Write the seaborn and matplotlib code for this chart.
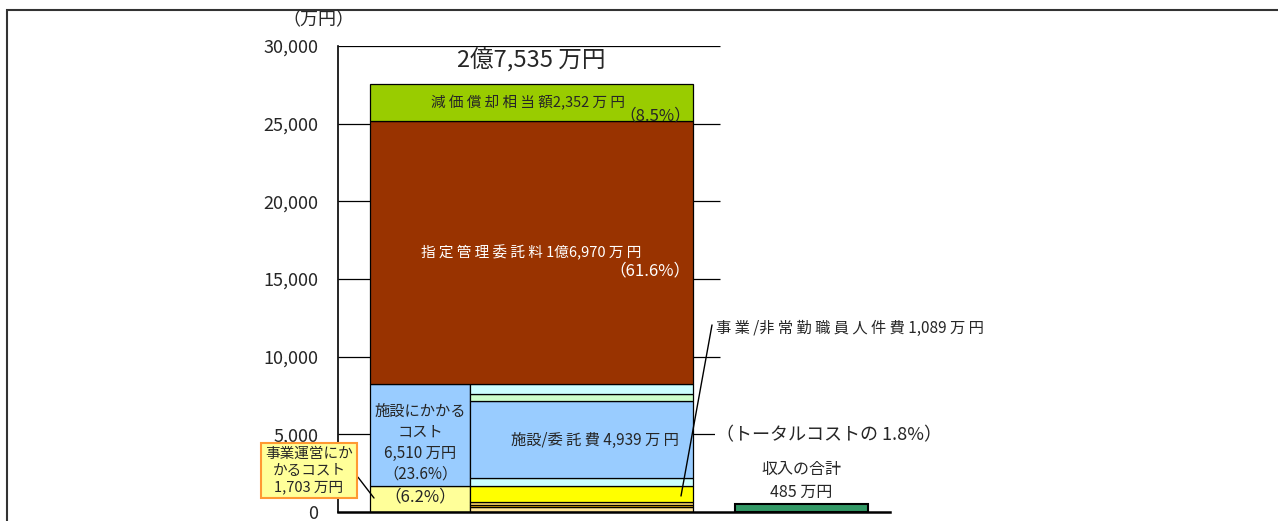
import matplotlib
matplotlib.use("Agg")
import matplotlib.pyplot as plt
import seaborn as sns
from matplotlib.patches import Rectangle

# --- data (万円) ---
summary_labels = ['事業運営', '施設']
summary_values = [1703, 6510]
summary_colors = ['#FFFF99', '#99CCFF']

detail_labels = ['事業/その他1', '事業/その他2', '事業/その他3', '事業/非常勤職員人件費',
                 '施設/その他1', '施設/委託費', '施設/その他2', '施設/その他3']
detail_values = [300, 150, 164, 1089, 480, 4939, 500, 591]
detail_colors = ['#FFE699', '#FFC000', '#FFD966', '#FFFF00',
                 '#CCFFFF', '#99CCFF', '#CCFFCC', '#CCFFFF']

upper_labels = ['指定管理委託料', '減価償却相当額']
upper_values = [16970, 2352]
upper_colors = ['#993300', '#99CC00']

income_total = 485
y_ticks = [0, 5000, 10000, 15000, 20000, 25000, 30000]

sns.set_theme(style='white')
plt.rcParams['font.family'] = ['Noto Sans CJK JP', 'DejaVu Sans']

fig = plt.figure(figsize=(12.78, 5.21), dpi=100)
ax = fig.add_axes([338 / 1278, 1 - 512 / 521, (890 - 338) / 1278, (512 - 46) / 521])
ax.set_xlim(0, 5.52)
ax.set_ylim(0, 30000)

# gridlines only over the cost bar area
ax.hlines(y_ticks[1:], 0, 3.82, color='black', lw=0.9, zorder=0)

edge = dict(edgecolor='black', linewidth=0.9, zorder=2)

# left column: summary split
bottom = 0
for v, c in zip(summary_values, summary_colors):
    ax.bar(0.82, v, width=1.0, bottom=bottom, color=c, **edge)
    bottom += v

# right column: detailed split
bottom = 0
for v, c in zip(detail_values, detail_colors):
    ax.bar(2.435, v, width=2.23, bottom=bottom, color=c, **edge)
    bottom += v

# upper wide segments
for v, c in zip(upper_values, upper_colors):
    ax.bar(1.935, v, width=3.23, bottom=bottom, color=c, **edge)
    bottom += v
total = bottom

# income bar
sns.barplot(x=[4.635], y=[income_total], native_scale=True, width=1.33,
            color='#339966', edgecolor='black', linewidth=1.5, saturation=1, ax=ax)
ax.set_xlim(0, 5.52)

# axes styling
for s in ['top', 'right']:
    ax.spines[s].set_visible(False)
ax.spines['left'].set_color('black')
ax.spines['bottom'].set_color('black')
ax.spines['left'].set_linewidth(1.2)
ax.spines['bottom'].set_linewidth(1.8)
ax.set_xticks([])
ax.set_yticks(y_ticks)
ax.set_yticklabels([f'{t:,}' for t in y_ticks], fontsize=13)
ax.tick_params(axis='y', length=0, pad=14)
ax.set_xlabel('')
ax.set_ylabel('')

fig.text(318 / 1278, 1 - 20 / 521, '（万円）', ha='center', va='center', fontsize=13)

fs = 11
oku = total // 10000
man = total % 10000
ax.text(1.935, 29100, f'{oku}億{man:,} 万円', ha='center', va='center', fontsize=17)
ax.text(1.90, 26330, f'減 価 償 却 相 当 額{upper_values[1]:,} 万 円', ha='center', va='center', fontsize=10.5)
ax.text(3.53, 25500, f'（{upper_values[1] / total * 100:.1f}%）', ha='right', va='center', fontsize=12)
ax.text(1.935, 16675, '指 定 管 理 委 託 料 1億6,970 万 円', ha='center', va='center',
        fontsize=10.5, color='white')
ax.text(3.52, 15515, f'（{upper_values[0] / total * 100:.1f}%）', ha='right', va='center',
        fontsize=12, color='white')
ax.text(0.82, 4440, f'施設にかかる\nコスト\n{summary_values[1]:,} 万円\n（{summary_values[1] / total * 100:.1f}%）',
        ha='center', va='center', fontsize=fs, linespacing=1.3, zorder=3)
ax.text(0.82, 965, f'（{summary_values[0] / total * 100:.1f}%）', ha='center', va='center', fontsize=12, zorder=3)
ax.text(2.57, 4635, f'施設/委 託 費 {detail_values[5]:,} 万 円', ha='center', va='center', fontsize=fs, zorder=3)
ax.text(3.78, 11845, f'事 業 /非 常 勤 職 員 人 件 費 {detail_values[3]:,} 万 円', ha='left', va='center',
        fontsize=fs, clip_on=False)
ax.text(3.78, 4957, f'（トータルコストの {income_total / total * 100:.1f}%）', ha='left', va='center',
        fontsize=13, bbox=dict(facecolor='white', edgecolor='none', pad=1))
ax.text(4.635, 1995, f'収入の合計\n{income_total} 万円', ha='center', va='center', fontsize=11.5,
        linespacing=1.45)

# leader lines
ax.plot([3.74, 3.43], [12040, 1030], color='black', lw=1, zorder=4)
ax.plot([0.20, 0.36], [2240, 900], color='black', lw=1, clip_on=False, zorder=4)

# callout box for operations cost
ax.text(-0.29, 2650, f'事業運営にか\nかるコスト\n{summary_values[0]:,} 万円', ha='center', va='center',
        fontsize=10.5, linespacing=1.25, clip_on=False, zorder=5,
        bbox=dict(boxstyle='square,pad=0.25', facecolor='#FFFF99', edgecolor='#FF9933', linewidth=1.5))

# outer frame
fig.add_artist(Rectangle((7 / 1278, -0.1), 1.2, 1.1 - 10 / 521, transform=fig.transFigure,
                         fill=False, edgecolor='#333333', linewidth=1.5))

fig.savefig('out.png', dpi=100)
